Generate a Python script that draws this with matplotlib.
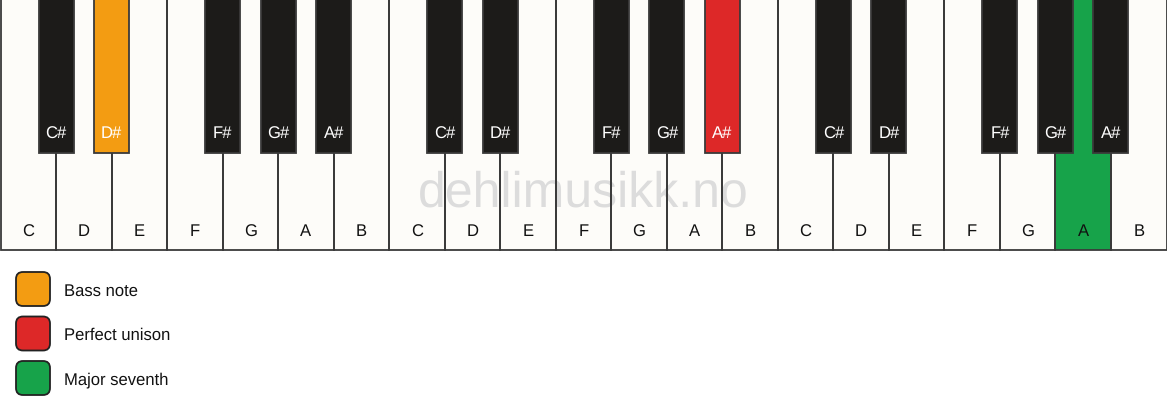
import matplotlib.pyplot as plt
from matplotlib.patches import Rectangle, FancyBboxPatch

plt.rcParams['font.family'] = ['Liberation Sans', 'DejaVu Sans']
plt.rcParams['text.hinting'] = 'no_hinting'

white_notes = ["C", "D", "E", "F", "G", "A", "B"]
black_notes = ["C#", "D#", "F#", "G#", "A#"]
black_after = [0, 1, 3, 4, 5]  # black key sits on the right edge of this white key
octaves = 3

# highlighted keys: (octave, note) -> colour
hl_white = {(2, "A"): "#17A34A"}
hl_black = {(0, "D#"): "#F39C12", (1, "A#"): "#DD2828"}

legend_labels = ["Bass note", "Perfect unison", "Major seventh"]
legend_colors = ["#F39C12", "#DD2828", "#17A34A"]

W = 1166 / 21       # white key width (px)
H = 250             # white key height
BW = 35             # black key width
BH = 153            # black key height
WHITE = "#FDFCF9"
BLACK = "#1C1B19"
EDGE = "#3A3A3A"

fig = plt.figure(figsize=(11.67, 4.17), dpi=100)
ax = fig.add_axes([0, 0, 1, 1])
ax.set_xlim(0, 1167)
ax.set_ylim(417, 0)
ax.axis("off")

# white keys (fill, then outlines on top of the watermark)
for o in range(octaves):
    for i, n in enumerate(white_notes):
        x = (o * 7 + i) * W
        c = hl_white.get((o, n), WHITE)
        ax.add_patch(Rectangle((x + 0.5, -2), W, H + 2, facecolor=c, edgecolor="none", zorder=1))
        ax.add_patch(Rectangle((x + 0.5, -2), W, H + 2, facecolor="none", edgecolor=EDGE, lw=1.3, zorder=2.5))
        ax.text(x + W / 2 + 0.5, 232, n, ha="center", va="center", fontsize=12, color="#111111", zorder=5)

# watermark
ax.text(583, 194, "dehlimusikk.no", ha="center", va="center", fontsize=36, color="#DCDCDC", zorder=2)

# black keys
for o in range(octaves):
    for n, k in zip(black_notes, black_after):
        cx = (o * 7 + k + 1) * W
        c = hl_black.get((o, n), BLACK)
        ax.add_patch(Rectangle((cx - BW / 2 + 0.5, -2), BW, BH + 2, facecolor=c, edgecolor=EDGE, lw=1.3, zorder=3))
        ax.text(cx + 0.5, 134, n, ha="center", va="center", fontsize=12, color="white", zorder=5)

# legend
for j, (lab, c) in enumerate(zip(legend_labels, legend_colors)):
    y = 272 + j * 44.5
    ax.add_patch(FancyBboxPatch((16, y), 34, 34, boxstyle="round,pad=0,rounding_size=7",
                                facecolor=c, edgecolor="#222222", lw=1.3, zorder=3))
    ax.text(64, y + 19, lab, ha="left", va="center", fontsize=12, color="#111111")

fig.savefig("out.png", dpi=100, facecolor="white")
